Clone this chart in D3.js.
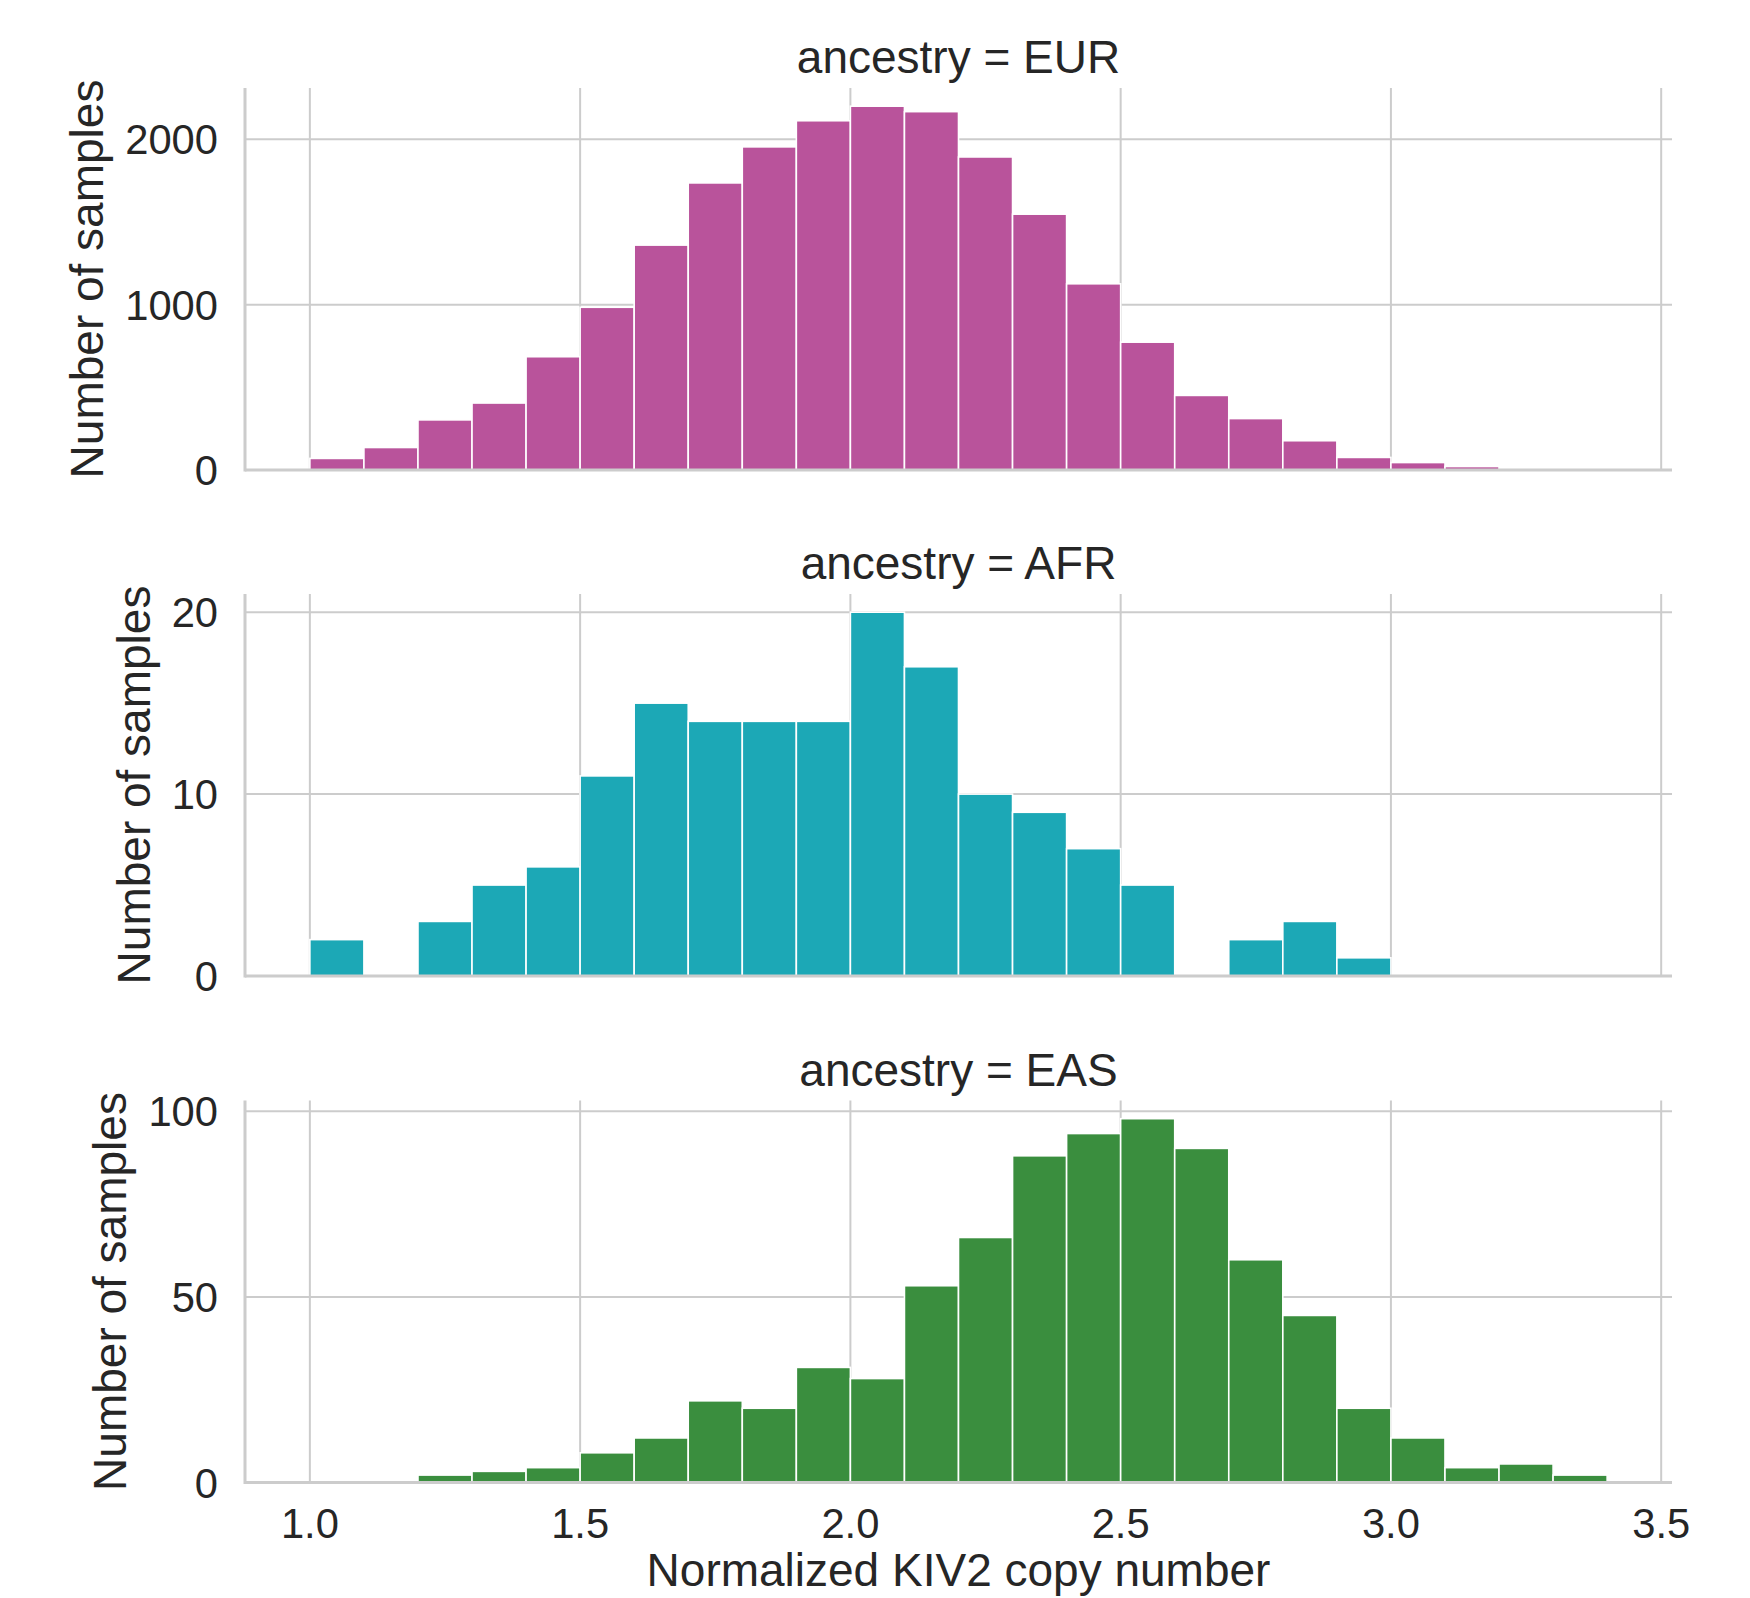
<!DOCTYPE html>
<html>
<head>
<meta charset="utf-8">
<script src="https://cdn.jsdelivr.net/npm/d3@7"></script>
<style>
  body { margin: 0; background: #fff; }
  text { font-family: "Liberation Sans", Arial, sans-serif; fill: #262626; }
</style>
</head>
<body>
<svg id="chart" width="1750" height="1598"></svg>
<script>
// histogram bins, width 0.1
var binStarts = [1.0, 1.1, 1.2, 1.3, 1.4, 1.5, 1.6, 1.7, 1.8, 1.9, 2.0, 2.1,
                 2.2, 2.3, 2.4, 2.5, 2.6, 2.7, 2.8, 2.9, 3.0, 3.1, 3.2, 3.3];
var binWidth = 0.1;

var eurCounts = [70, 136, 303, 405, 685, 984, 1360, 1736, 1954, 2112, 2200, 2167,
                 1893, 1547, 1126, 773, 451, 311, 177, 76, 45, 21, 0, 0];
var afrCounts = [2, 0, 3, 5, 6, 11, 15, 14, 14, 14, 20, 17,
                 10, 9, 7, 5, 0, 2, 3, 1, 0, 0, 0, 0];
var easCounts = [0, 0, 2, 3, 4, 8, 12, 22, 20, 31, 28, 53,
                 66, 88, 94, 98, 90, 60, 45, 20, 12, 4, 5, 2];

var ancestries = ["EUR", "AFR", "EAS"];
var yTicks = [[0, 1000, 2000], [0, 10, 20], [0, 50, 100]];
var xTicks = [1.0, 1.5, 2.0, 2.5, 3.0, 3.5];
var colors = ["#b9539b", "#1ca8b6", "#3a8e3e"];

var svg = d3.select("#chart");

var left = 245, right = 1672;
var panelTop = [88, 594, 1100.5];
var panelH = 382;
var gridColor = "#cccccc";

var x = d3.scaleLinear().domain([0.88, 3.52]).range([left, right]);

var counts = [eurCounts, afrCounts, easCounts];

counts.forEach(function(series, i) {
    var top = panelTop[i],
        bottom = top + panelH;
    var y = d3.scaleLinear()
        .domain([0, d3.max(series) * 1.05])
        .range([bottom, top]);

    var g = svg.append("g");

    // grid
    g.selectAll(".vgrid").data(xTicks).enter().append("line")
        .attr("x1", function(d) { return x(d); })
        .attr("x2", function(d) { return x(d); })
        .attr("y1", top).attr("y2", bottom)
        .attr("stroke", gridColor).attr("stroke-width", 2);
    g.selectAll(".hgrid").data(yTicks[i]).enter().append("line")
        .attr("x1", left).attr("x2", right)
        .attr("y1", function(d) { return y(d); })
        .attr("y2", function(d) { return y(d); })
        .attr("stroke", gridColor).attr("stroke-width", 2);

    // bars
    var bars = binStarts.map(function(b, k) { return {x0: b, x1: b + binWidth, n: series[k]}; })
        .filter(function(d) { return d.n > 0; });
    g.selectAll("rect").data(bars).enter().append("rect")
        .attr("x", function(d) { return x(d.x0); })
        .attr("width", function(d) { return x(d.x1) - x(d.x0); })
        .attr("y", function(d) { return y(d.n); })
        .attr("height", function(d) { return y(0) - y(d.n); })
        .attr("fill", colors[i])
        .attr("stroke", "#fff")
        .attr("stroke-width", 1.6);

    // spines (left + bottom only)
    g.append("line").attr("x1", left).attr("x2", left)
        .attr("y1", top).attr("y2", bottom + 1.5)
        .attr("stroke", gridColor).attr("stroke-width", 3);
    g.append("line").attr("x1", left).attr("x2", right)
        .attr("y1", bottom).attr("y2", bottom)
        .attr("stroke", gridColor).attr("stroke-width", 3);

    // y tick labels
    var labels = g.selectAll(".ytick").data(yTicks[i]).enter().append("text")
        .attr("x", 218)
        .attr("y", function(d) { return y(d); })
        .attr("dy", "0.36em")
        .attr("text-anchor", "end")
        .style("font-size", "41.7px")
        .text(d3.format("d"));
    var maxW = d3.max(labels.nodes(), function(n) { return n.getComputedTextLength(); });

    // y axis label, placed left of the widest tick label
    var lx = 218 - maxW - 22;
    g.append("text")
        .attr("transform", "translate(" + lx + "," + ((top + bottom) / 2) + ") rotate(-90)")
        .attr("text-anchor", "middle")
        .style("font-size", "46px")
        .text("Number of samples");

    // facet title
    g.append("text")
        .attr("x", (left + right) / 2)
        .attr("y", top - 15)
        .attr("text-anchor", "middle")
        .style("font-size", "46px")
        .text("ancestry = " + ancestries[i]);

    // x tick labels on the bottom panel only
    if (i === counts.length - 1) {
        g.selectAll(".xtick").data(xTicks).enter().append("text")
            .attr("x", function(d) { return x(d); })
            .attr("y", bottom + 55)
            .attr("text-anchor", "middle")
            .style("font-size", "41.7px")
            .text(d3.format(".1f"));
        g.append("text")
            .attr("x", (left + right) / 2)
            .attr("y", bottom + 103)
            .attr("text-anchor", "middle")
            .style("font-size", "46px")
            .text("Normalized KIV2 copy number");
    }
});
</script>
</body>
</html>
